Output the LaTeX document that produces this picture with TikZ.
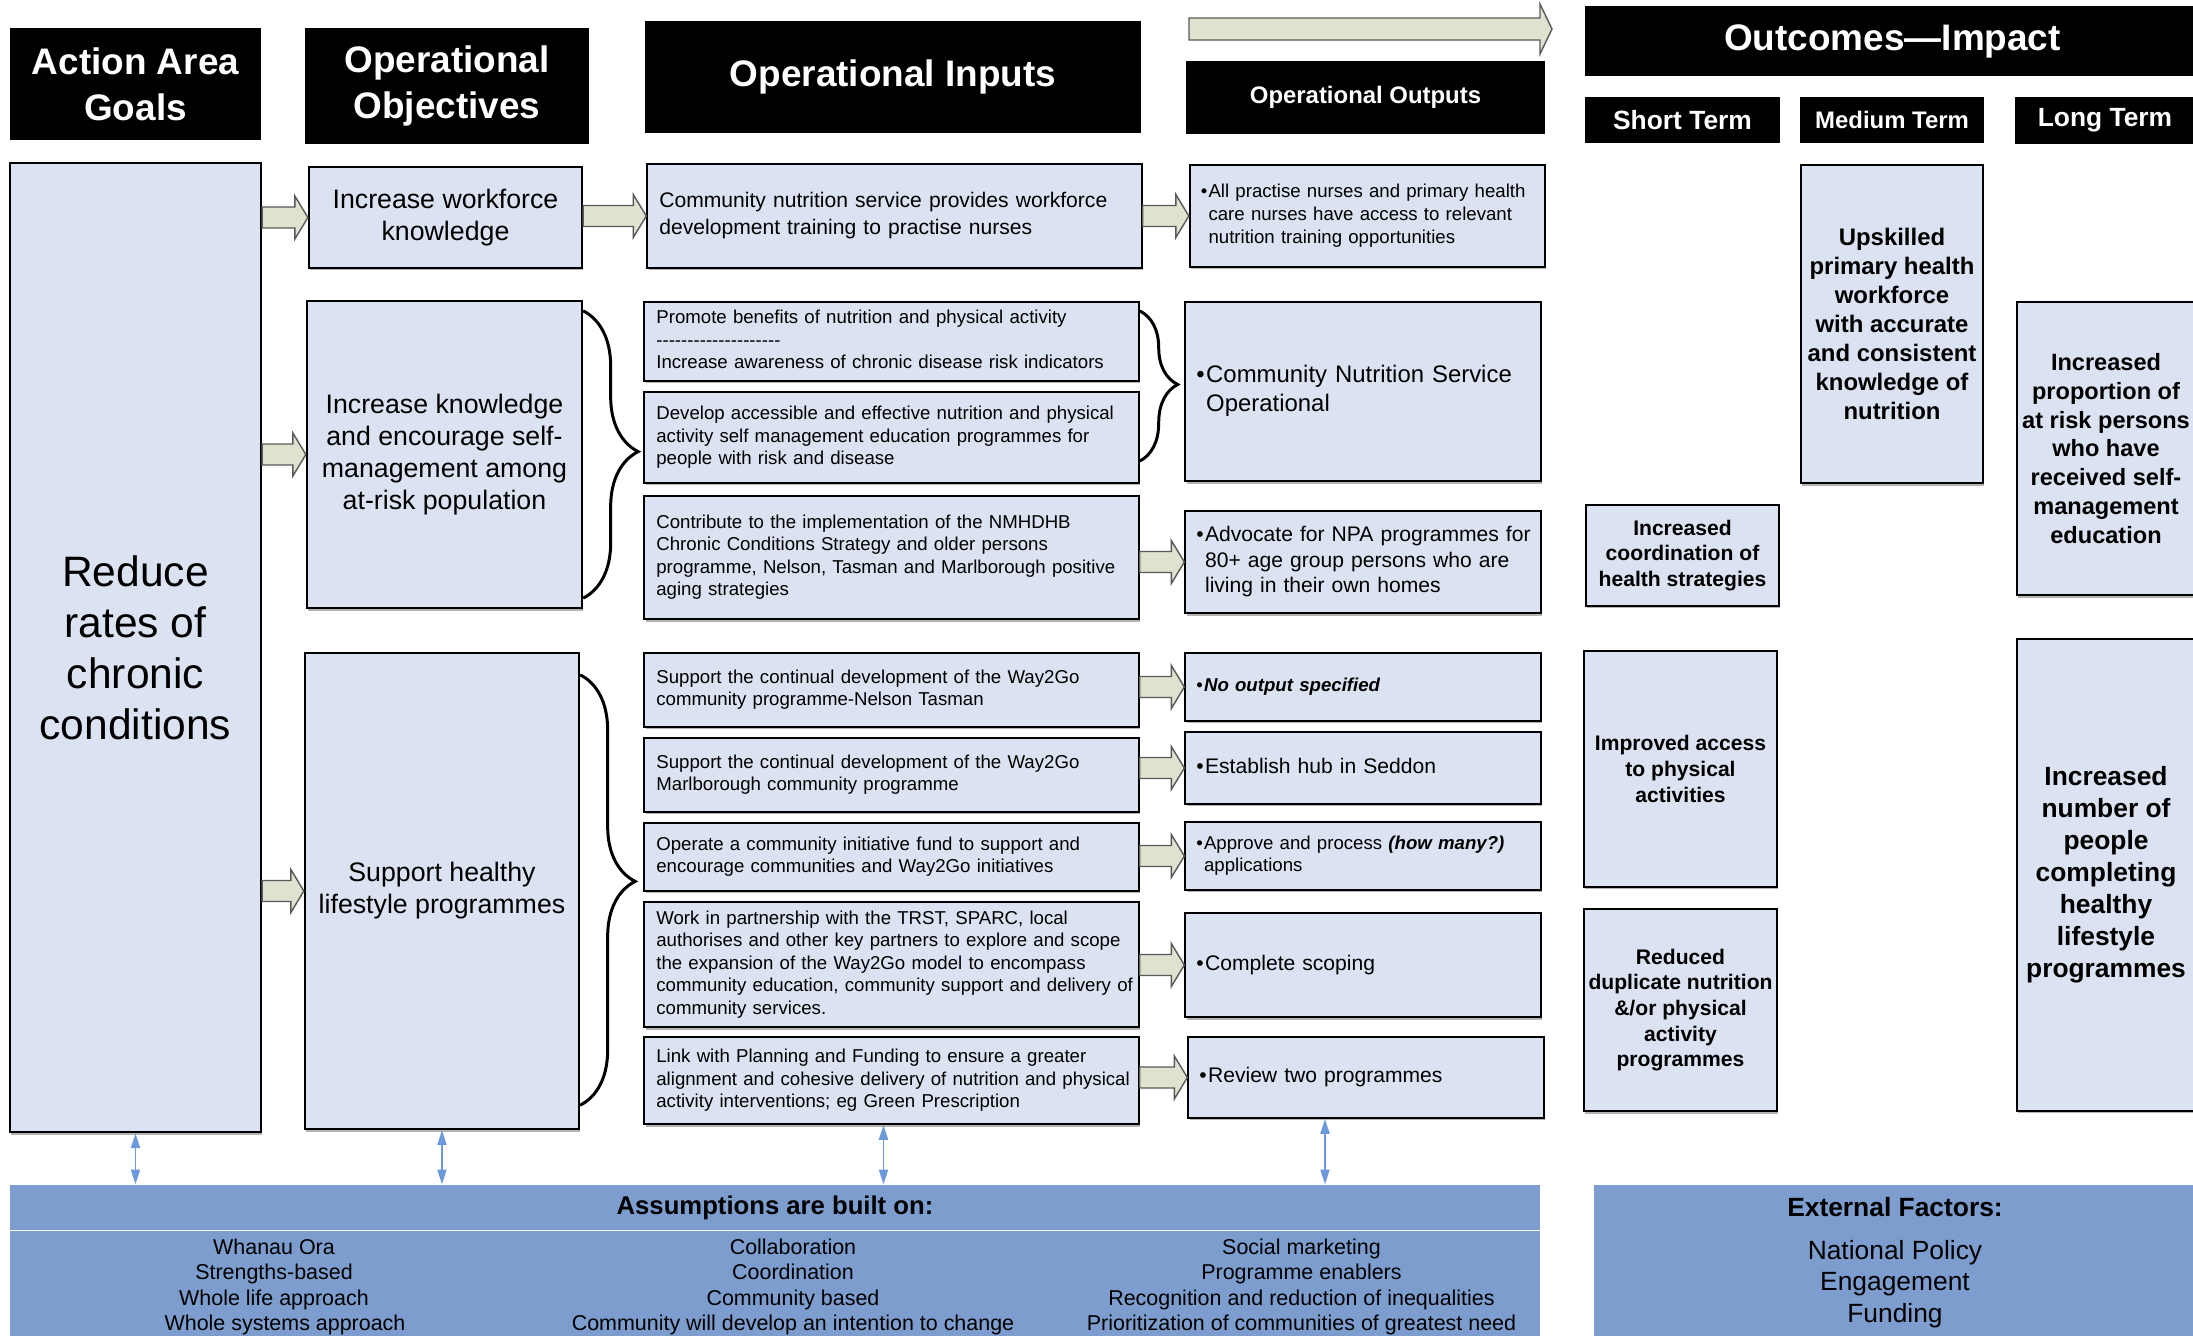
\documentclass[tikz,border=0pt]{standalone}
\usepackage{fontspec}
\setmainfont{Liberation Sans}
\usepackage{tikz}
\usetikzlibrary{calc}
\usetikzlibrary{arrows.meta,decorations.pathreplacing,shadows}

\definecolor{boxblue}{RGB}{219,226,241}
\definecolor{arrgreen}{RGB}{221,227,206}
\definecolor{bandblue}{RGB}{124,157,206}
\definecolor{linkblue}{RGB}{108,152,220}

\newcommand\fsz[2]{\fontsize{#1}{#2}\selectfont}
\newcommand\rows[1]{\begin{tabular}[t]{@{}l@{}}#1\end{tabular}}
\newcommand\bul[1]{\textbullet\kern0.06em\rows{#1}}
\newcommand\blockarr[2]{%
  \path[barrow] let \p1=(#1), \p2=(#2) in
    (\x1,\y2+0.105cm) -- (\x2-0.13cm,\y2+0.105cm) -- (\x2-0.13cm,\y2+0.215cm)
    -- (\x2,\y2) -- (\x2-0.13cm,\y2-0.215cm) -- (\x2-0.13cm,\y2-0.105cm)
    -- (\x1,\y2-0.105cm) -- cycle;}

\tikzset{
  hdr/.style={fill=black, text=white, inner sep=0pt, align=center},
  box/.style={draw=black, line width=0.6pt, fill=boxblue, inner sep=0pt, align=center,
    drop shadow={shadow xshift=0.35pt, shadow yshift=-0.7pt, opacity=0.6}},
  inbox/.style={box, align=left, inner xsep=0.12cm, text width=4.70cm},
  outbox/.style={box, align=left, inner xsep=0.11cm, text width=3.33cm},
  barrow/.style={draw=black!65, fill=arrgreen, line width=0.4pt},
  brc/.style={decorate, line width=0.85pt},
  dblarr/.style={draw=linkblue, line width=0.45pt,
    arrows={Triangle[length=4.2pt,width=2.6pt]-Triangle[length=4.2pt,width=2.6pt]}},
  band/.style={fill=bandblue, inner sep=0pt},
  txt/.style={inner sep=0pt, align=center}
}

\begin{document}
\begin{tikzpicture}[x=0.01cm,y=-0.01cm]
    \useasboundingbox (0,0) rectangle (2193,1336);

    % column heads
    \node[hdr, minimum width=2.51cm, minimum height=1.12cm, font=\bfseries\fsz{10.5}{13.1}] (hgoal) at (135.5,84) {Action Area\\Goals};
    \node[hdr, minimum width=2.84cm, minimum height=1.15cm, font=\bfseries\fsz{10.5}{13.1}] (hobj) at (447,86) {Operational\\Objectives};
    \node[hdr, minimum width=4.96cm, minimum height=1.12cm, font=\bfseries\fsz{10.5}{13.1}] (hin) at (893,77) {Operational Inputs};
    \node[hdr, minimum width=3.59cm, minimum height=0.73cm, font=\bfseries\fsz{6.8}{8.2}] (hout) at (1365.5,97.5) {Operational Outputs};
    \node[hdr, minimum width=6.15cm, minimum height=0.70cm, font=\bfseries\fsz{10.5}{13.1}] (himp) at (1892.5,41) {Outcomes—Impact};
    \node[hdr, minimum width=1.95cm, minimum height=0.46cm, font=\bfseries\fsz{7.5}{9}] (hshort) at (1682.5,120) {Short Term};
    \node[hdr, minimum width=1.84cm, minimum height=0.46cm, font=\bfseries\fsz{6.8}{8.2}] (hmed) at (1892,120) {Medium Term};
    \node[hdr, minimum width=1.80cm, minimum height=0.47cm, font=\bfseries\fsz{7.5}{9}] (hlong) at (2105,120.5) {Long Term};
    \path[barrow] (1189,18) -- (1540,18) -- (1540,4) -- (1552,29) -- (1540,54) -- (1540,40) -- (1189,40) -- cycle;

    % goals and objectives
    \node[box, minimum width=2.51cm, minimum height=9.69cm, font=\fsz{12.1}{14.5}] (goal) at (135.5,647.5) {Reduce\\rates of\\chronic\\conditions};
    \node[box, minimum width=2.73cm, minimum height=1.01cm, font=\fsz{7.6}{9.1}] (obj1) at (445.5,217.5) {Increase workforce\\knowledge};
    \node[box, minimum width=2.75cm, minimum height=3.07cm, font=\fsz{7.6}{9.1}] (obj2) at (444.5,454.5) {Increase knowledge\\and encourage self-\\management among\\at-risk population};
    \node[box, minimum width=2.74cm, minimum height=4.76cm, font=\fsz{7.6}{9.1}] (obj3) at (442,891) {Support healthy\\lifestyle programmes};

    % inputs
    \node[inbox, minimum height=1.04cm, font=\fsz{6}{7.6}] (in1) at (894.5,216) {\rows{Community nutrition service provides workforce\\development training to practise nurses}};
    \node[inbox, minimum height=0.79cm, font=\fsz{5.3}{6.4}] (in2) at (891.5,341.5) {\rows{Promote benefits of nutrition and physical activity\\-{}-{}-{}-{}-{}-{}-{}-{}-{}-{}-{}-{}-{}-{}-{}-{}-{}-{}-{}-{}\\Increase awareness of chronic disease risk indicators}};
    \node[inbox, minimum height=0.91cm, font=\fsz{5.3}{6.4}] (in3) at (891.5,437.5) {\rows{Develop accessible and effective nutrition and physical\\activity self management education programmes for\\people with risk and disease}};
    \node[inbox, minimum height=1.23cm, font=\fsz{5.3}{6.4}] (in4) at (891.5,557.5) {\rows{Contribute to the implementation of the NMHDHB\\Chronic Conditions Strategy and older persons\\programme, Nelson, Tasman and Marlborough positive\\aging strategies}};
    \node[inbox, minimum height=0.74cm, font=\fsz{5.3}{6.4}] (in5) at (891.5,690) {\rows{Support the continual development of the Way2Go\\community programme-Nelson Tasman}};
    \node[inbox, minimum height=0.74cm, font=\fsz{5.3}{6.4}] (in6) at (891.5,775) {\rows{Support the continual development of the Way2Go\\Marlborough community programme}};
    \node[inbox, minimum height=0.68cm, font=\fsz{5.3}{6.4}] (in7) at (891.5,857) {\rows{Operate a community initiative fund to support and\\encourage communities and Way2Go initiatives}};
    \node[inbox, minimum height=1.25cm, font=\fsz{5.3}{6.4}] (in8) at (891.5,964.5) {\rows{Work in partnership with the TRST, SPARC, local\\authorises and other key partners to explore and scope\\the expansion of the Way2Go model to encompass\\community education, community support and delivery of\\community services.}};
    \node[inbox, minimum height=0.87cm, font=\fsz{5.3}{6.4}] (in9) at (891.5,1080.5) {\rows{Link with Planning and Funding to ensure a greater\\alignment and cohesive delivery of nutrition and physical\\activity interventions; eg Green Prescription}};

    % outputs
    \node[outbox, minimum height=1.02cm, font=\fsz{5.3}{6.5}] (out1) at (1367.5,216) {\bul{All practise nurses and primary health\\care nurses have access to relevant\\nutrition training opportunities}};
    \node[outbox, minimum height=1.79cm, font=\fsz{6.8}{8.25}] (out2) at (1363,391.5) {\bul{Community Nutrition Service\\Operational}};
    \node[outbox, minimum height=1.02cm, font=\fsz{6}{7.2}] (out3) at (1363,562) {\bul{Advocate for NPA programmes for\\80+ age group persons who are\\living in their own homes}};
    \node[outbox, minimum height=0.68cm, font=\fsz{5.3}{6.4}] (out4) at (1363,687) {\bul{\textbf{\textit{No output specified}}}};
    \node[outbox, minimum height=0.72cm, font=\fsz{6}{7.2}] (out5) at (1363,768) {\bul{Establish hub in Seddon}};
    \node[outbox, minimum height=0.68cm, font=\fsz{5.3}{6.4}] (out6) at (1363,856) {\bul{Approve and process \textbf{\textit{(how many?)}}\\applications}};
    \node[outbox, minimum height=1.04cm, font=\fsz{6}{7.2}] (out7) at (1363,965) {\bul{Complete scoping}};
    \node[outbox, minimum height=0.81cm, font=\fsz{6}{7.2}] (out8) at (1366,1077.5) {\bul{Review two programmes}};

    % outcomes
    \node[box, minimum width=1.82cm, minimum height=3.18cm, font=\bfseries\fsz{6.8}{8.25}] (oc1) at (1892,324) {Upskilled\\primary health\\workforce\\with accurate\\and consistent\\knowledge of\\nutrition};
    \node[box, minimum width=1.78cm, minimum height=2.93cm, font=\bfseries\fsz{6.7}{8.2}] (oc2) at (2106,448.5) {Increased\\proportion of\\at risk persons\\who have\\received self-\\management\\education};
    \node[box, minimum width=1.93cm, minimum height=1.01cm, font=\bfseries\fsz{6}{7.2}] (oc3) at (1682.5,555.5) {Increased\\coordination of\\health strategies};
    \node[box, minimum width=1.93cm, minimum height=2.355cm, font=\bfseries\fsz{6}{7.4}] (oc4) at (1680.5,768.75) {Improved access\\to physical\\activities};
    \node[box, minimum width=1.93cm, minimum height=2.02cm, font=\bfseries\fsz{6}{7.3}] (oc5) at (1680.5,1010) {Reduced\\duplicate nutrition\\\&/or physical\\activity\\programmes};
    \node[box, minimum width=1.78cm, minimum height=4.715cm, font=\bfseries\fsz{7.5}{9.1}] (oc6) at (2106,875) {Increased\\number of\\people\\completing\\healthy\\lifestyle\\programmes};

    % block arrows
    \blockarr{goal.east |- obj1.west}{obj1.west}
    \blockarr{goal.east |- obj2.west}{obj2.west}
    \blockarr{goal.east |- obj3.west}{obj3.west}
    \blockarr{obj1.east |- in1.west}{in1.west}
    \blockarr{in1.east |- out1.west}{out1.west}
    \blockarr{in4.east |- out3.west}{out3.west}
    \blockarr{in5.east |- out4.west}{out4.west}
    \blockarr{in6.east |- out5.west}{out5.west}
    \blockarr{in7.east |- out6.west}{out6.west}
    \blockarr{in8.east |- out7.west}{out7.west}
    \blockarr{in9.east |- out8.west}{out8.west}

    % braces
    \draw[brc, decoration={brace, amplitude=0.55cm, aspect=0.49}] ([yshift=-0.11cm]obj2.north east) -- ([yshift=0.11cm]obj2.south east);
    \draw[brc, decoration={brace, amplitude=0.55cm, aspect=0.48}] ([yshift=-0.23cm]obj3.north east) -- ([yshift=0.25cm]obj3.south east);
    \draw[brc, decoration={brace, amplitude=0.38cm, aspect=0.49}] ([yshift=-0.1cm]in2.north east) -- ([yshift=0.23cm]in3.south east);

    % assumptions and external factors
    \node[band, minimum width=15.30cm, minimum height=0.45cm, font=\bfseries\fsz{7.3}{8.8}] (asm) at (775,1207.5) {Assumptions are built on:};
    \node[band, minimum width=15.30cm, minimum height=1.10cm] (asmbody) at (775,1286) {};
    \node[txt, font=\fsz{6.1}{7.2}] (asm1) at (274,1287) {Whanau Ora\\Strengths-based\\Whole life approach\\\hspace*{0.22cm}Whole systems approach};
    \node[txt, font=\fsz{6.1}{7.2}] (asm2) at (793,1287) {Collaboration\\Coordination\\Community based\\Community will develop an intention to change};
    \node[txt, font=\fsz{6.1}{7.2}] (asm3) at (1301.5,1287) {Social marketing\\Programme enablers\\Recognition and reduction of inequalities\\Prioritization of communities of greatest need};

    \node[band, minimum width=6.06cm, minimum height=1.56cm] (ext) at (1897,1263) {};
    \node[txt, font=\bfseries\fsz{7.5}{9}] (extt) at (1895,1207) {External Factors:};
    \node[txt, font=\fsz{7.5}{9}] (extl) at (1895,1284) {National Policy\\Engagement\\Funding};

    % links down to the assumptions
    \coordinate (a3) at ([xshift=-0.08cm]in9.south);
    \coordinate (a4) at ([xshift=-0.41cm]out8.south);
    \draw[dblarr] (goal.south) -- (goal.south |- asm.north);
    \draw[dblarr] (obj3.south) -- (obj3.south |- asm.north);
    \draw[dblarr] (a3) -- (a3 |- asm.north);
    \draw[dblarr] (a4) -- (a4 |- asm.north);
\end{tikzpicture}
\end{document}
